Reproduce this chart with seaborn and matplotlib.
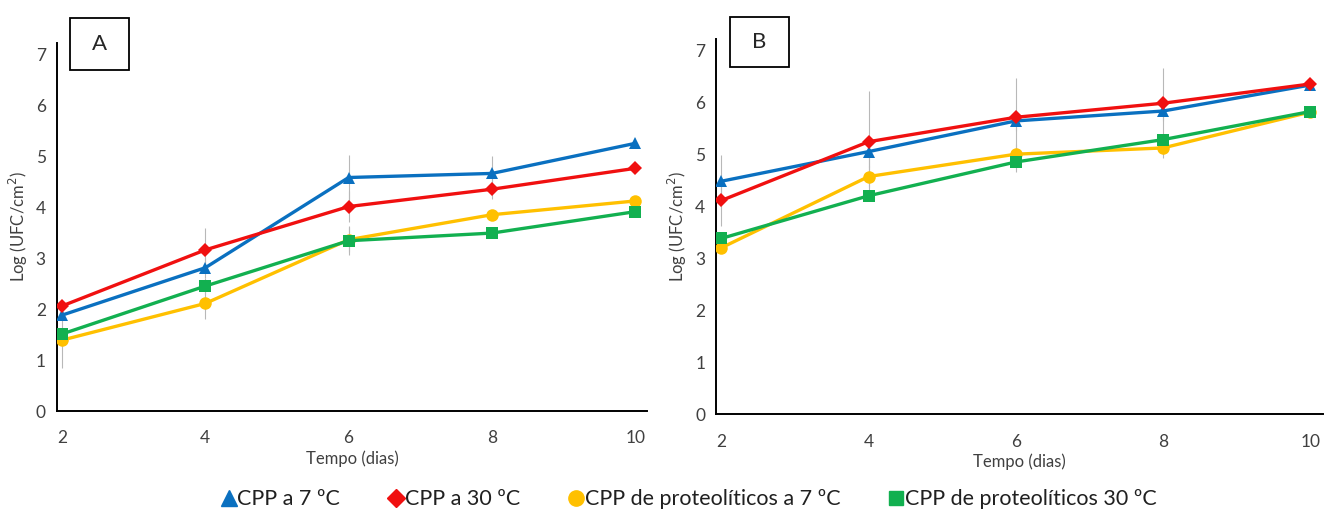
import numpy as np
import pandas as pd
import matplotlib
matplotlib.use("Agg")
import matplotlib.pyplot as plt
import seaborn as sns
from matplotlib.lines import Line2D
from matplotlib.patches import Rectangle

# data
dias = [2, 4, 6, 8, 10]
series = ["CPP a 7 ºC", "CPP a 30 ºC", "CPP de proteolíticos a 7 ºC", "CPP de proteolíticos 30 ºC"]

a_7 = [1.88, 2.81, 4.58, 4.66, 5.25]
a_30 = [2.06, 3.16, 4.01, 4.35, 4.76]
a_prot_7 = [1.39, 2.11, 3.36, 3.85, 4.12]
a_prot_30 = [1.51, 2.45, 3.34, 3.49, 3.91]

b_7 = [4.48, 5.05, 5.64, 5.83, 6.33]
b_30 = [4.11, 5.24, 5.71, 5.98, 6.35]
b_prot_7 = [3.20, 4.57, 5.00, 5.12, 5.81]
b_prot_30 = [3.38, 4.20, 4.85, 5.28, 5.82]

# error bars (standard deviation), estimated
a_err_7 = [0.10, 0.20, 0.44, 0.35, 0.10]
a_err_30 = [0.10, 0.42, 0.30, 0.20, 0.10]
a_err_prot_7 = [0.55, 0.30, 0.25, 0.10, 0.10]
a_err_prot_30 = [0.10, 0.15, 0.28, 0.10, 0.10]

b_err_7 = [0.50, 0.30, 0.20, 0.20, 0.05]
b_err_30 = [0.49, 0.97, 0.76, 0.67, 0.05]
b_err_prot_7 = [0.10, 0.20, 0.20, 0.20, 0.05]
b_err_prot_30 = [0.10, 0.10, 0.20, 0.10, 0.05]

colors = ["#0A70C0", "#F01010", "#FFC000", "#12B050"]
markers = ["^", "D", "o", "s"]
msizes = [9, 7, 9, 8]

def long_df(vals):
    rows = []
    for s, v in zip(series, vals):
        for d, y in zip(dias, v):
            rows.append({"Tempo": d, "Log": y, "Serie": s})
    return pd.DataFrame(rows)

panel_a = long_df([a_7, a_30, a_prot_7, a_prot_30])
panel_b = long_df([b_7, b_30, b_prot_7, b_prot_30])
errs_a = [a_err_7, a_err_30, a_err_prot_7, a_err_prot_30]
errs_b = [b_err_7, b_err_30, b_err_prot_7, b_err_prot_30]

sns.set_style("white")
plt.rcParams["font.family"] = ["Lato", "DejaVu Sans"]

W, H = 1324, 517
fig = plt.figure(figsize=(W / 100, H / 100), dpi=100)
ax_a = fig.add_axes([0.043, 0.205, 0.446, 0.712])
ax_b = fig.add_axes([0.541, 0.199, 0.458, 0.726])

palette = dict(zip(series, colors))
marker_map = dict(zip(series, markers))

for ax, df, errs in [(ax_a, panel_a, errs_a), (ax_b, panel_b, errs_b)]:
    # grey error bars first, under the lines
    for s, e in zip(series, errs):
        sub = df[df["Serie"] == s]
        ax.errorbar(sub["Tempo"], sub["Log"], yerr=e, fmt="none",
                    ecolor="#B8B8B8", elinewidth=0.8, capsize=0, zorder=1)
    sns.lineplot(data=df, x="Tempo", y="Log", hue="Serie", style="Serie",
                 palette=palette, markers=marker_map, dashes=False,
                 linewidth=2.4, markersize=9, markeredgewidth=0,
                 legend=False, ax=ax, zorder=3)
    for line, ms in zip(ax.get_lines()[-4:], msizes):
        line.set_markersize(ms)

    ax.set_xlim(1.93, 10.17)
    ax.set_ylim(0, 7.22)
    ax.set_xticks([2, 4, 6, 8, 10])
    ax.set_yticks(range(0, 8))
    ax.tick_params(axis="both", length=0, labelsize=12.5, colors="#404040")
    ax.tick_params(axis="x", pad=14)
    ax.tick_params(axis="y", pad=8)
    for sp in ["top", "right"]:
        ax.spines[sp].set_visible(False)
    for sp in ["left", "bottom"]:
        ax.spines[sp].set_color("black")
        ax.spines[sp].set_linewidth(1.4)
    ax.set_xlabel("Tempo (dias)", fontsize=12, color="#404040", labelpad=3)
    ax.set_ylabel("Log (UFC/cm$^2$)", fontsize=12, color="#404040", labelpad=4)

# letter boxes (pixel boxes from the reference)
for letter, (x0, y0, x1, y1) in [("A", (70, 18, 129, 70)), ("B", (730, 17, 789, 67))]:
    fig.patches.append(Rectangle((x0 / W, 1 - y1 / H), (x1 - x0) / W, (y1 - y0) / H,
                                 transform=fig.transFigure, fc="white", ec="black",
                                 lw=1.3, zorder=5))
    fig.text((x0 + x1) / 2 / W, 1 - (y0 + y1) / 2 / H, letter, fontsize=16,
             ha="center", va="center", zorder=6)

handles = [Line2D([], [], color=c, marker=m, linestyle="none", markersize=ms + 2)
           for c, m, ms in zip(colors, markers, msizes)]
fig.legend(handles, series, loc="center", bbox_to_anchor=(0.52, 0.034), ncol=4,
           frameon=False, fontsize=15.5, handletextpad=0.0, columnspacing=2.2,
           handlelength=0.8, labelcolor="#202020")

fig.savefig("out.png", dpi=100)
